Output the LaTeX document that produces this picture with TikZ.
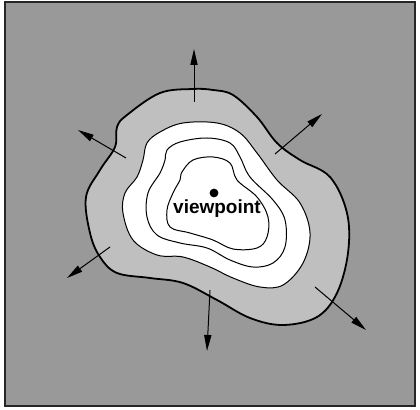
\documentclass[tikz,border=0pt]{standalone}
\usepackage{fontspec}
\setmainfont{Liberation Sans}
\usetikzlibrary{arrows.meta}

\begin{document}
\begin{tikzpicture}[
	x=0.25mm, y=-0.25mm,
	frame/.style={draw=black!85, line width=0.5mm, fill=black!40},
	rim/.style={draw=black, line width=0.45mm, fill=black!25},
	contour/.style={draw=black, line width=0.25mm},
	outarrow/.style={-{Triangle[length=4mm, width=1.8mm]}, line width=0.25mm},
	every node/.style={align=center}
	]
	\useasboundingbox (0,0) rectangle (420,410);
	
	%Background
	\draw[frame] (5,2) rectangle (415,406);
	
	%Outer region
	\draw[rim] plot[smooth cycle, tension=0.6] coordinates {
		(193,89) (160,93) (127,115) (117,127) (115,147) (100,170) (86,197)
		(90,233) (100,257) (117,273) (150,278) (183,283) (217,300) (250,318)
		(283,325) (317,317) (337,293) (348,253) (347,213) (330,177) (300,160)
		(277,143) (257,117) (233,95) (213,90)};
	
	%Contours
	\draw[contour, fill=white] plot[smooth cycle, tension=0.6] coordinates {
		(147,143) (160,132) (183,123) (217,123) (240,133) (257,153) (277,180)
		(300,203) (310,233) (303,263) (283,285) (260,287) (233,278) (210,267)
		(183,257) (157,255) (133,240) (123,213) (125,193) (137,177) (143,160)};
	\draw[contour] plot[smooth cycle, tension=0.6] coordinates {
		(167,150) (180,142) (207,138) (230,143) (240,157) (250,177) (273,200)
		(285,220) (285,247) (273,263) (253,267) (230,260) (207,248) (180,243)
		(157,235) (147,217) (148,193) (160,173) (165,160)};
	\draw[contour] plot[smooth cycle, tension=0.6] coordinates {
		(182,172) (193,160) (213,157) (230,163) (237,180) (257,197) (268,217)
		(267,237) (257,248) (233,249) (213,240) (190,233) (170,227) (167,210)
		(173,193) (180,180)};
	
	%Viewpoint
	\fill (214,193) circle (1.1mm);
	\node[font=\fontsize{13.5}{16}\selectfont\bfseries] (view) at (217,209) {viewpoint};
	
	%Arrows
	\coordinate (n0) at (194,102); \coordinate (n1) at (194,49);
	\coordinate (ne0) at (275,154); \coordinate (ne1) at (322,114);
	\coordinate (nw0) at (126,158); \coordinate (nw1) at (78,130);
	\coordinate (sw0) at (110,247); \coordinate (sw1) at (67,278);
	\coordinate (s0) at (210,290); \coordinate (s1) at (207,351);
	\coordinate (se0) at (315,287); \coordinate (se1) at (366,330);
	\foreach \d in {n,ne,nw,sw,s,se}
		\draw[outarrow] (\d0) -- (\d1);
\end{tikzpicture}
\end{document}
